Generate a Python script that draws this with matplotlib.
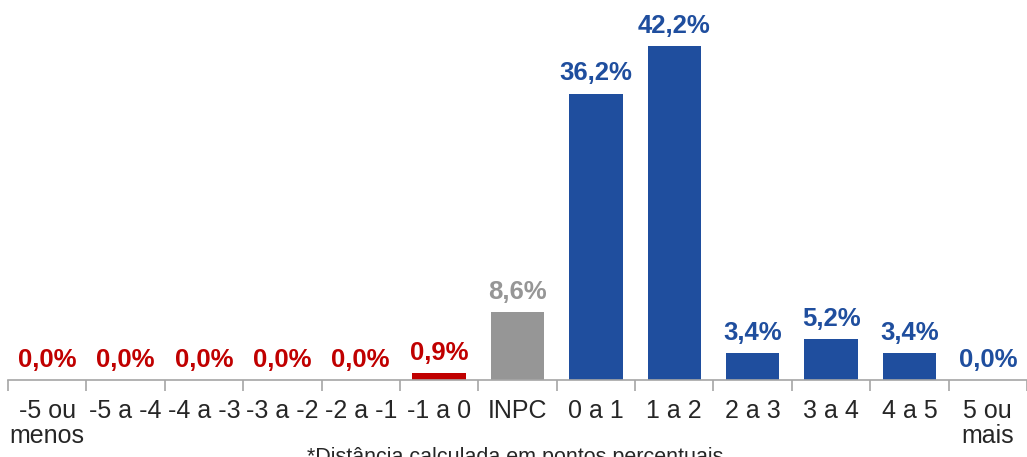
import matplotlib
import matplotlib.pyplot as plt

matplotlib.use('Agg')
plt.rcParams['font.family'] = ['Liberation Sans', 'DejaVu Sans']

categories = ['-5 ou\nmenos', '-5 a -4', '-4 a -3', '-3 a -2', '-2 a -1', '-1 a 0',
              'INPC', '0 a 1', '1 a 2', '2 a 3', '3 a 4', '4 a 5', '5 ou\nmais']
values = [0.0, 0.0, 0.0, 0.0, 0.0, 0.9, 8.6, 36.2, 42.2, 3.4, 5.2, 3.4, 0.0]
groups = ['neg'] * 6 + ['inpc'] + ['pos'] * 6

RED = '#C00000'
GREY = '#969696'
BLUE = '#1F4E9E'
colors = {'neg': RED, 'inpc': GREY, 'pos': BLUE}

fig = plt.figure(figsize=(10.27, 4.57), dpi=100)
ax = fig.add_axes([8 / 1027, 77 / 457, 1019 / 1027, 356 / 457])

x = range(len(categories))
bar_colors = [colors[g] for g in groups]
ax.bar(x, values, width=0.68, color=bar_colors)

for xi, v, c in zip(x, values, bar_colors):
    ax.annotate(f'{v:.1f}%'.replace('.', ','), (xi, v), xytext=(0, 6),
                textcoords='offset points', ha='center', va='bottom',
                fontsize=18.5, fontweight='bold', color=c)

ax.set_xlim(-0.5, len(categories) - 0.5)
ax.set_ylim(0, 45)
ax.set_yticks([])
for s in ['top', 'right', 'left']:
    ax.spines[s].set_visible(False)
ax.spines['bottom'].set_color('#A6A6A6')
ax.spines['bottom'].set_linewidth(1.2)

# ticks between categories, labels centred
ax.set_xticks([i - 0.5 for i in range(len(categories) + 1)])
ax.set_xticklabels([])
ax.set_xticks(list(x), minor=True)
ax.set_xticklabels(categories, minor=True, fontsize=18, color='#262626',
                   linespacing=1.05)
ax.tick_params(axis='x', which='major', length=8, color='#A6A6A6', width=1.2)
ax.tick_params(axis='x', which='minor', length=0, pad=14)

fig.text(0.502, 1 - 447 / 457, '*Distância calculada em pontos percentuais',
         ha='center', va='top', fontsize=15.5, color='#262626')

fig.savefig('out.png', dpi=100)
